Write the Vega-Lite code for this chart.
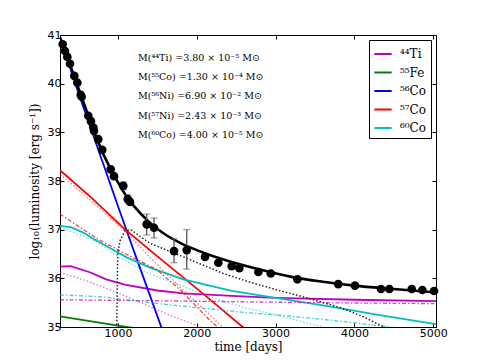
{
  "$schema": "https://vega.github.io/schema/vega-lite/v6.json",
  "width": 376,
  "height": 292,
  "autosize": {"type": "none"},
  "padding": {"left": 60, "top": 35, "right": 49, "bottom": 36},
  "background": "white",
  "config": {
    "view": {"stroke": "black", "strokeWidth": 1},
    "axis": {"grid": false, "domainColor": "black", "tickColor": "black", "labelColor": "black", "titleColor": "black", "labelFont": "DejaVu Sans", "labelFontSize": 11, "titleFont": "DejaVu Serif", "titleFontSize": 12, "titleFontWeight": "normal", "tickSize": -4, "tickWidth": 1}
  },
  "datasets": {
    "pts": [
      {"t": 298, "L": 40.81}, {"t": 327, "L": 40.67}, {"t": 357, "L": 40.55}, {"t": 391, "L": 40.41},
      {"t": 445, "L": 40.16}, {"t": 484, "L": 40.02}, {"t": 527, "L": 39.77}, {"t": 539, "L": 39.73},
      {"t": 623, "L": 39.34}, {"t": 657, "L": 39.23}, {"t": 687, "L": 39.10}, {"t": 695, "L": 39.03},
      {"t": 749, "L": 38.86}, {"t": 800, "L": 38.64}, {"t": 907, "L": 38.24}, {"t": 949, "L": 38.10},
      {"t": 1067, "L": 37.90}, {"t": 1123, "L": 37.63}, {"t": 1152, "L": 37.57}, {"t": 1364, "L": 37.11},
      {"t": 1457, "L": 37.04}, {"t": 1711, "L": 36.56}, {"t": 1872, "L": 36.58}, {"t": 2104, "L": 36.44},
      {"t": 2273, "L": 36.32}, {"t": 2443, "L": 36.25}, {"t": 2540, "L": 36.21}, {"t": 2781, "L": 36.13},
      {"t": 2938, "L": 36.10}, {"t": 3276, "L": 35.98}, {"t": 3795, "L": 35.88}, {"t": 4007, "L": 35.85},
      {"t": 4337, "L": 35.78}, {"t": 4443, "L": 35.78}, {"t": 4727, "L": 35.78}, {"t": 4862, "L": 35.76},
      {"t": 5010, "L": 35.74}
    ],
    "err": [
      {"t": 1067, "lo": 37.82, "hi": 37.98},
      {"t": 1123, "lo": 37.55, "hi": 37.72},
      {"t": 1364, "lo": 36.89, "hi": 37.32},
      {"t": 1457, "lo": 36.83, "hi": 37.24},
      {"t": 1711, "lo": 36.32, "hi": 36.81},
      {"t": 1872, "lo": 36.19, "hi": 37.0}
    ],
    "total": [
      {"t": 264, "L": 40.95}, {"t": 400, "L": 40.35}, {"t": 600, "L": 39.45}, {"t": 800, "L": 38.6},
      {"t": 900, "L": 38.27}, {"t": 1000, "L": 37.97}, {"t": 1100, "L": 37.7}, {"t": 1200, "L": 37.49},
      {"t": 1400, "L": 37.15}, {"t": 1600, "L": 36.9}, {"t": 1800, "L": 36.72}, {"t": 2000, "L": 36.58},
      {"t": 2200, "L": 36.46}, {"t": 2500, "L": 36.31}, {"t": 2800, "L": 36.18}, {"t": 3200, "L": 36.03},
      {"t": 3600, "L": 35.93}, {"t": 4000, "L": 35.85}, {"t": 4500, "L": 35.78}, {"t": 5035, "L": 35.71}
    ],
    "blackdot": [
      {"t": 983, "L": 34.9}, {"t": 990, "L": 35.8}, {"t": 996, "L": 36.5}, {"t": 1025, "L": 36.77},
      {"t": 1089, "L": 36.98}, {"t": 1160, "L": 37.0}, {"t": 1406, "L": 36.72}, {"t": 1829, "L": 36.44},
      {"t": 2336, "L": 36.1}, {"t": 2675, "L": 35.92}, {"t": 3000, "L": 35.77}, {"t": 3395, "L": 35.6},
      {"t": 3817, "L": 35.4}, {"t": 4100, "L": 35.22}, {"t": 4400, "L": 34.98}
    ],
    "solid": [
      {"iso": "⁴⁴Ti", "t": 264, "L": 36.24}, {"iso": "⁴⁴Ti", "t": 400, "L": 36.25}, {"iso": "⁴⁴Ti", "t": 650, "L": 36.12},
      {"iso": "⁴⁴Ti", "t": 850, "L": 35.98}, {"iso": "⁴⁴Ti", "t": 1085, "L": 35.87}, {"iso": "⁴⁴Ti", "t": 1500, "L": 35.75},
      {"iso": "⁴⁴Ti", "t": 1830, "L": 35.69}, {"iso": "⁴⁴Ti", "t": 2443, "L": 35.64}, {"iso": "⁴⁴Ti", "t": 3000, "L": 35.6},
      {"iso": "⁴⁴Ti", "t": 4000, "L": 35.56}, {"iso": "⁴⁴Ti", "t": 5035, "L": 35.53},
      {"iso": "⁵⁵Fe", "t": 264, "L": 35.22}, {"iso": "⁵⁵Fe", "t": 1000, "L": 35.03}, {"iso": "⁵⁵Fe", "t": 1200, "L": 34.98},
      {"iso": "⁵⁶Co", "t": 264, "L": 40.95}, {"iso": "⁵⁶Co", "t": 500, "L": 39.8}, {"iso": "⁵⁶Co", "t": 800, "L": 38.41},
      {"iso": "⁵⁶Co", "t": 1000, "L": 37.48}, {"iso": "⁵⁶Co", "t": 1200, "L": 36.57}, {"iso": "⁵⁶Co", "t": 1400, "L": 35.67},
      {"iso": "⁵⁶Co", "t": 1600, "L": 34.77},
      {"iso": "⁵⁷Co", "t": 264, "L": 38.22}, {"iso": "⁵⁷Co", "t": 661, "L": 37.66}, {"iso": "⁵⁷Co", "t": 1085, "L": 37.01},
      {"iso": "⁵⁷Co", "t": 1500, "L": 36.45}, {"iso": "⁵⁷Co", "t": 2082, "L": 35.68}, {"iso": "⁵⁷Co", "t": 2582, "L": 35.0},
      {"iso": "⁵⁷Co", "t": 2700, "L": 34.84},
      {"iso": "⁶⁰Co", "t": 264, "L": 37.08}, {"iso": "⁶⁰Co", "t": 400, "L": 37.05}, {"iso": "⁶⁰Co", "t": 560, "L": 36.94},
      {"iso": "⁶⁰Co", "t": 700, "L": 36.8}, {"iso": "⁶⁰Co", "t": 857, "L": 36.66}, {"iso": "⁶⁰Co", "t": 1110, "L": 36.43},
      {"iso": "⁶⁰Co", "t": 1406, "L": 36.22}, {"iso": "⁶⁰Co", "t": 1829, "L": 35.98}, {"iso": "⁶⁰Co", "t": 2443, "L": 35.74},
      {"iso": "⁶⁰Co", "t": 3000, "L": 35.6}, {"iso": "⁶⁰Co", "t": 3700, "L": 35.42}, {"iso": "⁶⁰Co", "t": 4300, "L": 35.25},
      {"iso": "⁶⁰Co", "t": 5035, "L": 35.06}
    ],
    "dotted": [
      {"iso": "⁴⁴Ti", "t": 264, "L": 36.12}, {"iso": "⁴⁴Ti", "t": 600, "L": 35.95}, {"iso": "⁴⁴Ti", "t": 1000, "L": 35.7},
      {"iso": "⁴⁴Ti", "t": 1500, "L": 35.35}, {"iso": "⁴⁴Ti", "t": 1800, "L": 35.15}, {"iso": "⁴⁴Ti", "t": 2100, "L": 34.97},
      {"iso": "⁵⁷Co", "t": 264, "L": 38.14}, {"iso": "⁵⁷Co", "t": 661, "L": 37.59}, {"iso": "⁵⁷Co", "t": 1100, "L": 36.95},
      {"iso": "⁵⁷Co", "t": 1406, "L": 36.43}, {"iso": "⁵⁷Co", "t": 1800, "L": 35.8}, {"iso": "⁵⁷Co", "t": 2330, "L": 35.0},
      {"iso": "⁵⁷Co", "t": 2400, "L": 34.9},
      {"iso": "⁶⁰Co", "t": 264, "L": 37.05}, {"iso": "⁶⁰Co", "t": 700, "L": 36.78}, {"iso": "⁶⁰Co", "t": 1000, "L": 36.45},
      {"iso": "⁶⁰Co", "t": 1400, "L": 36.09}, {"iso": "⁶⁰Co", "t": 1800, "L": 35.85}, {"iso": "⁶⁰Co", "t": 2200, "L": 35.6},
      {"iso": "⁶⁰Co", "t": 2650, "L": 35.38}, {"iso": "⁶⁰Co", "t": 3000, "L": 35.25}, {"iso": "⁶⁰Co", "t": 3600, "L": 35.0},
      {"iso": "⁶⁰Co", "t": 3700, "L": 34.96}
    ],
    "dashdot": [
      {"iso": "⁴⁴Ti", "t": 264, "L": 35.56}, {"iso": "⁴⁴Ti", "t": 2000, "L": 35.53}, {"iso": "⁴⁴Ti", "t": 3500, "L": 35.5},
      {"iso": "⁴⁴Ti", "t": 5035, "L": 35.48},
      {"iso": "⁵⁷Co", "t": 264, "L": 37.32}, {"iso": "⁵⁷Co", "t": 750, "L": 36.8}, {"iso": "⁵⁷Co", "t": 1100, "L": 36.5},
      {"iso": "⁵⁷Co", "t": 1490, "L": 36.18}, {"iso": "⁵⁷Co", "t": 1800, "L": 35.75}, {"iso": "⁵⁷Co", "t": 2170, "L": 35.13},
      {"iso": "⁵⁷Co", "t": 2300, "L": 34.95},
      {"iso": "⁶⁰Co", "t": 264, "L": 35.66}, {"iso": "⁶⁰Co", "t": 800, "L": 35.62}, {"iso": "⁶⁰Co", "t": 1400, "L": 35.5},
      {"iso": "⁶⁰Co", "t": 2000, "L": 35.4}, {"iso": "⁶⁰Co", "t": 2600, "L": 35.3}, {"iso": "⁶⁰Co", "t": 3200, "L": 35.22},
      {"iso": "⁶⁰Co", "t": 3700, "L": 35.14}, {"iso": "⁶⁰Co", "t": 4450, "L": 35.0}, {"iso": "⁶⁰Co", "t": 4550, "L": 34.98}
    ],
    "notes": [
      {"t": 1254, "L": 40.53, "label": "M(⁴⁴Ti) =3.80 × 10⁻⁵ M⊙"},
      {"t": 1254, "L": 40.14, "label": "M(⁵⁵Co) =1.30 × 10⁻⁴ M⊙"},
      {"t": 1254, "L": 39.75, "label": "M(⁵⁶Ni) =6.90 × 10⁻² M⊙"},
      {"t": 1254, "L": 39.34, "label": "M(⁵⁷Ni) =2.43 × 10⁻³ M⊙"},
      {"t": 1254, "L": 38.95, "label": "M(⁶⁰Co) =4.00 × 10⁻⁵ M⊙"}
    ]
  },
  "resolve": {"axis": {"x": "independent", "y": "independent"}},
  "layer": [
    {
      "layer": [
        {
          "data": {"name": "solid"},
          "mark": {"type": "line", "clip": true, "strokeWidth": 1.8},
          "encoding": {
            "x": {"field": "t", "type": "quantitative", "title": "time [days]", "scale": {"domain": [264, 5035], "nice": false, "zero": false}, "axis": {"values": [1000, 2000, 3000, 4000, 5000], "format": "d", "labelPadding": 4, "titlePadding": 3}},
            "y": {"field": "L", "type": "quantitative", "title": "log₁₀(luminosity [erg s⁻¹])", "scale": {"domain": [35, 41], "nice": false, "zero": false}, "axis": {"values": [35, 36, 37, 38, 39, 40, 41], "format": "d", "labelPadding": 3, "titlePadding": 6}},
            "color": {"field": "iso", "type": "nominal", "sort": null,
              "scale": {"domain": ["⁴⁴Ti", "⁵⁵Fe", "⁵⁶Co", "⁵⁷Co", "⁶⁰Co"], "range": ["#BF00BF", "#008000", "#0000FF", "#FF0000", "#00BFBF"]},
              "legend": {"orient": "top-right", "title": null, "symbolType": "stroke", "symbolSize": 300, "symbolStrokeWidth": 2, "labelFont": "DejaVu Serif", "labelFontSize": 12, "labelColor": "black", "fillColor": "white", "strokeColor": "black", "padding": 4, "rowPadding": 2.5, "offset": 5, "labelOffset": 7, "cornerRadius": 0}}
          }
        },
        {
          "data": {"name": "dotted"},
          "mark": {"type": "line", "clip": true, "strokeWidth": 1.3, "strokeDash": [1.5, 2], "opacity": 0.55},
          "encoding": {
            "x": {"field": "t", "type": "quantitative", "title": "time [days]"},
            "y": {"field": "L", "type": "quantitative", "title": "log₁₀(luminosity [erg s⁻¹])"},
            "stroke": {"field": "iso", "type": "nominal", "scale": {"domain": ["⁴⁴Ti", "⁵⁵Fe", "⁵⁶Co", "⁵⁷Co", "⁶⁰Co"], "range": ["#BF00BF", "#008000", "#0000FF", "#FF0000", "#00BFBF"]}, "legend": null}
          }
        },
        {
          "data": {"name": "dashdot"},
          "mark": {"type": "line", "clip": true, "strokeWidth": 1.3, "strokeDash": [4, 2, 1.5, 2], "opacity": 0.75},
          "encoding": {
            "x": {"field": "t", "type": "quantitative", "title": "time [days]"},
            "y": {"field": "L", "type": "quantitative", "title": "log₁₀(luminosity [erg s⁻¹])"},
            "stroke": {"field": "iso", "type": "nominal", "scale": {"domain": ["⁴⁴Ti", "⁵⁵Fe", "⁵⁶Co", "⁵⁷Co", "⁶⁰Co"], "range": ["#BF00BF", "#008000", "#0000FF", "#FF0000", "#00BFBF"]}, "legend": null}
          }
        },
        {
          "data": {"name": "blackdot"},
          "mark": {"type": "line", "clip": true, "strokeWidth": 1.5, "strokeDash": [1.5, 2], "color": "#222222"},
          "encoding": {"x": {"field": "t", "type": "quantitative", "title": "time [days]"}, "y": {"field": "L", "type": "quantitative", "title": "log₁₀(luminosity [erg s⁻¹])"}}
        },
        {
          "data": {"name": "total"},
          "mark": {"type": "line", "clip": true, "strokeWidth": 2.6, "color": "black", "interpolate": "monotone"},
          "encoding": {"x": {"field": "t", "type": "quantitative", "title": "time [days]"}, "y": {"field": "L", "type": "quantitative", "title": "log₁₀(luminosity [erg s⁻¹])"}}
        },
        {
          "data": {"name": "err"},
          "mark": {"type": "errorbar", "ticks": {"size": 7, "color": "#555555"}, "rule": {"color": "#555555", "strokeWidth": 1.3}},
          "encoding": {"x": {"field": "t", "type": "quantitative", "title": "time [days]"}, "y": {"field": "lo", "type": "quantitative", "title": "log₁₀(luminosity [erg s⁻¹])"}, "y2": {"field": "hi"}}
        },
        {
          "data": {"name": "pts"},
          "mark": {"type": "point", "filled": true, "size": 75, "color": "black", "opacity": 1},
          "encoding": {"x": {"field": "t", "type": "quantitative", "title": "time [days]"}, "y": {"field": "L", "type": "quantitative", "title": "log₁₀(luminosity [erg s⁻¹])"}}
        },
        {
          "data": {"name": "notes"},
          "mark": {"type": "text", "align": "left", "baseline": "middle", "font": "DejaVu Serif", "fontSize": 9.5, "color": "black"},
          "encoding": {"x": {"field": "t", "type": "quantitative", "title": "time [days]"}, "y": {"field": "L", "type": "quantitative", "title": "log₁₀(luminosity [erg s⁻¹])"}, "text": {"field": "label"}}
        }
      ]
    },
    {
      "data": {"name": "pts"},
      "mark": {"type": "point", "opacity": 0},
      "encoding": {
        "x": {"field": "t", "type": "quantitative", "axis": {"orient": "top", "values": [1000, 2000, 3000, 4000, 5000], "labels": false, "title": null, "domain": false}},
        "y": {"field": "L", "type": "quantitative", "axis": {"orient": "right", "values": [35, 36, 37, 38, 39, 40, 41], "labels": false, "title": null, "domain": false}}
      }
    }
  ]
}
